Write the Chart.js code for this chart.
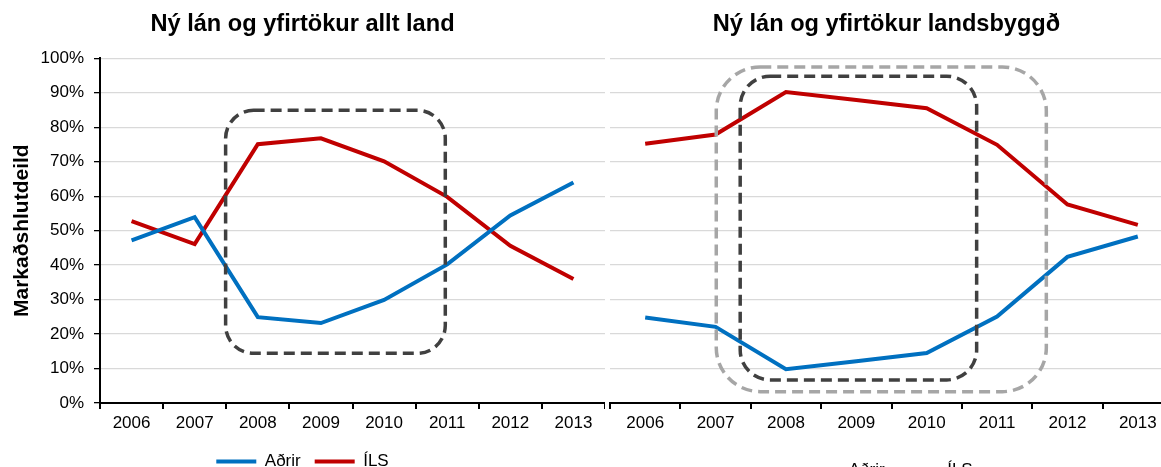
<!DOCTYPE html>
<html>
<head>
<meta charset="utf-8">
<script src="https://cdn.jsdelivr.net/npm/chart.js@4.4.1/dist/chart.umd.min.js"></script>
<style>
  html, body { margin: 0; padding: 0; background: #fff; }
  #wrap { position: relative; width: 1161px; height: 467px; overflow: hidden; }
  #box1 { position: absolute; left: 0; top: 0; width: 605px; height: 480px; }
  #box2 { position: absolute; left: 600px; top: 0; width: 573px; height: 489px; }
</style>
</head>
<body>
<div id="wrap">
  <div id="box1"><canvas id="c1"></canvas></div>
  <div id="box2"><canvas id="c2"></canvas></div>
</div>
<script>
// --------------------
// DATA
// --------------------
const years = ["2006", "2007", "2008", "2009", "2010", "2011", "2012", "2013"];

// allt land
const adrirAllt = [47.2, 53.9, 24.9, 23.2, 29.9, 40.2, 54.4, 64.0];
const ilsAllt   = [52.8, 46.1, 75.1, 76.8, 70.1, 59.8, 45.6, 36.0];

// landsbyggð
const adrirLands = [24.8, 22.1, 9.8, 12.1, 14.5, 25.1, 42.4, 48.3];
const ilsLands   = [75.2, 77.9, 90.2, 87.9, 85.5, 74.9, 57.6, 51.7];

const yTicks = [0, 10, 20, 30, 40, 50, 60, 70, 80, 90, 100];

// dashed frames in data units (category index / percent)
const framesAllt = [
  { from: 1.49, to: 4.97, top: 84.9, bottom: 14.4, color: "#404040", radius: 28 }
];
const framesLands = [
  { from: 1.01, to: 5.70, top: 97.5, bottom: 3.3, color: "#A6A6A6", radius: 44 },
  { from: 1.35, to: 4.71, top: 94.8, bottom: 6.7, color: "#404040", radius: 30 }
];

Chart.defaults.font.family = "'Liberation Sans', Arial, sans-serif";
Chart.defaults.color = "#000";

const framePlugin = {
  id: "frames",
  afterDatasetsDraw(chart, args, opts) {
    const { ctx } = chart;
    const x = chart.scales.x, y = chart.scales.y;
    (opts.list || []).forEach(f => {
      const l = x.getPixelForValue(f.from), r = x.getPixelForValue(f.to);
      const t = y.getPixelForValue(f.top), b = y.getPixelForValue(f.bottom);
      ctx.save();
      ctx.setLineDash([11, 6]);
      ctx.lineWidth = 3.5;
      ctx.strokeStyle = f.color;
      ctx.beginPath();
      ctx.roundRect(l, t, r - l, b - t, f.radius);
      ctx.stroke();
      ctx.restore();
    });
  }
};

// xAxisH: height kept for the x axis box, so the legend sits lower
function makeChart(id, title, adrir, ils, frames, left, xAxisH) {
  return new Chart(document.getElementById(id).getContext("2d"), {
    type: "line",
    data: {
      labels: years,
      datasets: [
        { label: "Aðrir", data: adrir, borderColor: "#0070C0", backgroundColor: "#0070C0",
          borderWidth: 4, pointRadius: 0, tension: 0 },
        { label: "ÍLS", data: ils, borderColor: "#C00000", backgroundColor: "#C00000",
          borderWidth: 4, pointRadius: 0, tension: 0 }
      ]
    },
    options: {
      responsive: true,
      maintainAspectRatio: false,
      animation: false,
      events: [],
      layout: { padding: 0 },
      plugins: {
        title: {
          display: true,
          text: title,
          color: "#000",
          font: { size: 23.6, weight: "bold" },
          padding: { top: 10, bottom: 20 }
        },
        legend: {
          position: "bottom",
          labels: {
            usePointStyle: true,
            pointStyle: "line",
            pointStyleWidth: 40,
            color: "#000",
            font: { size: 17 },
            padding: 14
          }
        },
        tooltip: { enabled: false },
        frames: { list: frames }
      },
      scales: {
        x: {
          offset: true,
          grid: { offset: true, drawOnChartArea: false, drawTicks: true, tickLength: 6, tickColor: "#000", lineWidth: 2 },
          border: { color: "#000", width: 2 },
          ticks: { color: "#000", font: { size: 17 }, padding: 4, maxRotation: 0, autoSkip: false },
          afterFit: s => { s.height = xAxisH; }
        },
        y: {
          min: 0,
          max: 100,
          afterBuildTicks: s => { s.ticks = yTicks.map(v => ({ value: v })); },
          grid: { color: "#D9D9D9", lineWidth: 1.3, drawTicks: left, tickLength: 6, tickColor: "#000" },
          border: { display: left, color: "#000", width: 2 },
          ticks: { display: left, color: "#000", font: { size: 17 }, padding: 10, callback: v => v + "%" },
          title: {
            display: left,
            text: "Markaðshlutdeild",
            color: "#000",
            font: { size: 21, weight: "bold" },
            padding: { top: 10, bottom: 0 }
          },
          afterFit: s => { s.width = left ? 100 : 10; }
        }
      }
    },
    plugins: [framePlugin]
  });
}

makeChart("c1", "Ný lán og yfirtökur allt land", adrirAllt, ilsAllt, framesAllt, true, 36);
makeChart("c2", "Ný lán og yfirtökur landsbyggð", adrirLands, ilsLands, framesLands, false, 45);
</script>
</body>
</html>
